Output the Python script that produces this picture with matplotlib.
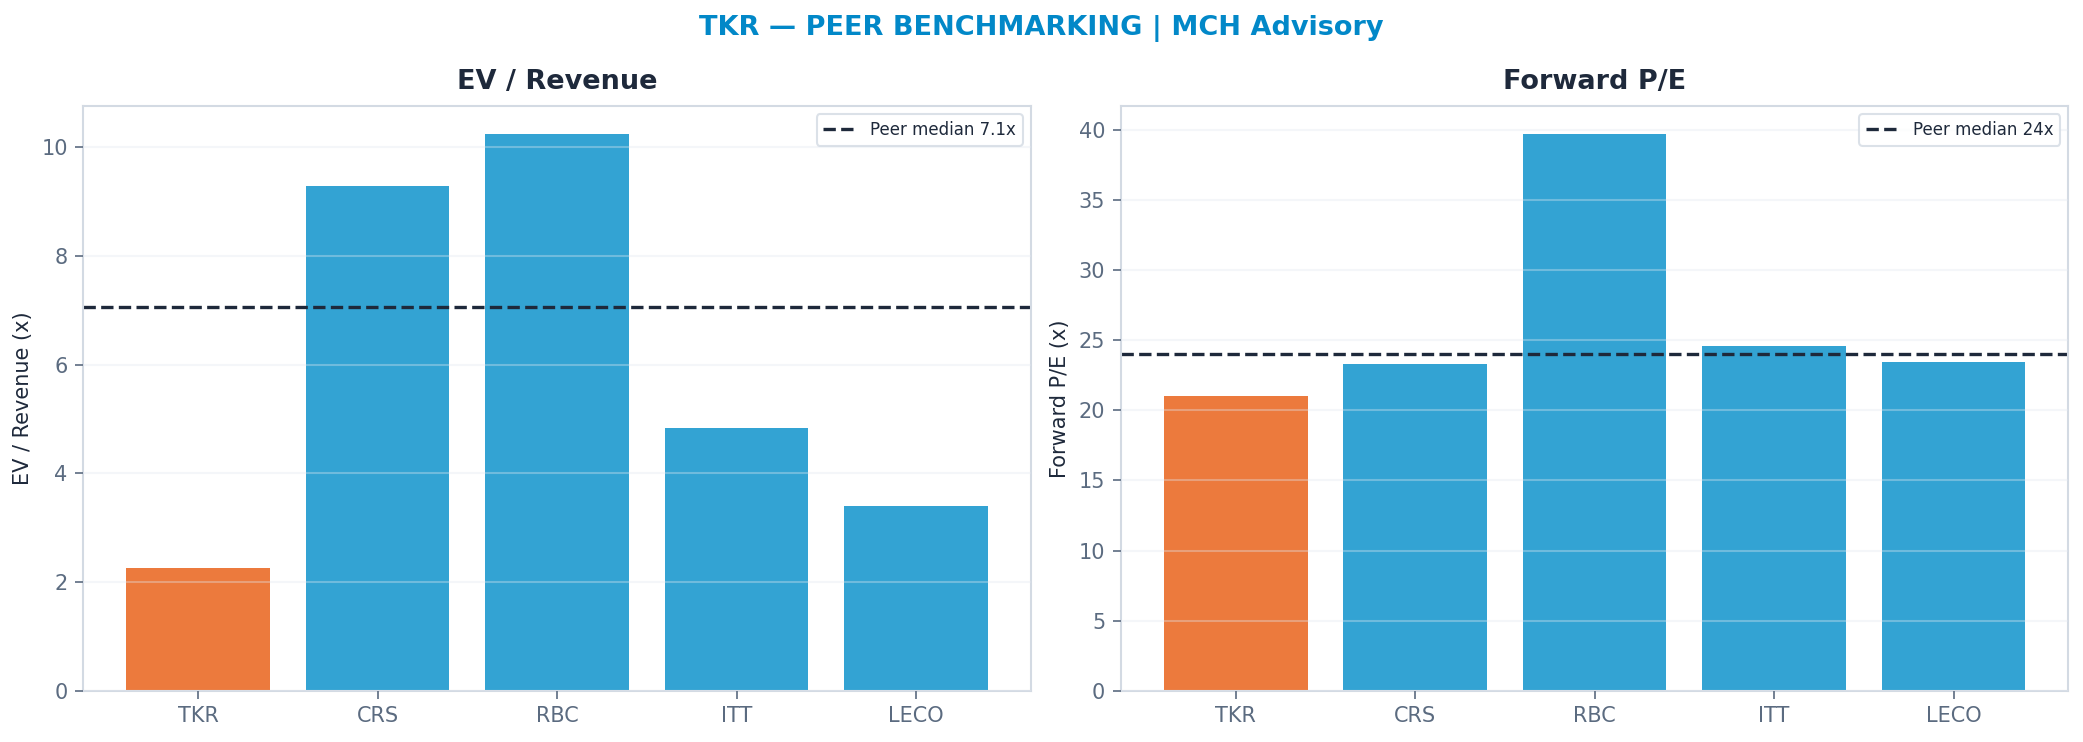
import matplotlib.pyplot as plt
import numpy as np

tickers = ["TKR", "CRS", "RBC", "ITT", "LECO"]
ev_revenue = [2.25, 9.28, 10.24, 4.83, 3.40]
fwd_pe = [21.0, 23.3, 39.7, 24.6, 23.45]

TITLE_BLUE = "#0288C8"
DARK = "#1E293B"
SLATE = "#5B6B80"
EDGE = "#D3DAE3"
ORANGE = "#EC7A3D"
BLUE = "#33A3D3"

plt.rcParams["font.family"] = "DejaVu Sans"

fig, axes = plt.subplots(1, 2, figsize=(2083 / 150, 742 / 150), dpi=150)
fig.subplots_adjust(left=0.040, right=0.993, bottom=0.069, top=0.857, wspace=0.095)

panels = [
    (axes[0], ev_revenue, "EV / Revenue", "EV / Revenue (x)", "{:.1f}x"),
    (axes[1], fwd_pe, "Forward P/E", "Forward P/E (x)", "{:.0f}x"),
]

for ax, vals, title, ylabel, fmt in panels:
    colors = [ORANGE] + [BLUE] * (len(vals) - 1)
    ax.bar(tickers, vals, color=colors, width=0.8)
    med = np.median(vals[1:])
    ax.axhline(med, color=DARK, linestyle="--", linewidth=1.6,
               label="Peer median " + fmt.format(med))
    ax.set_title(title, fontsize=13, fontweight="bold", color=DARK, pad=8)
    ax.set_ylabel(ylabel, fontsize=10, color=DARK)
    ax.grid(axis="y", color="#E2E8F0", alpha=0.35, linewidth=1)
    ax.set_axisbelow(False)
    for s in ax.spines.values():
        s.set_color(EDGE)
        s.set_linewidth(1)
    ax.tick_params(colors=SLATE, labelsize=10, length=4)
    leg = ax.legend(loc="upper right", fontsize=8, frameon=True,
                    edgecolor=EDGE, fancybox=True)
    for t in leg.get_texts():
        t.set_color(DARK)

fig.suptitle("TKR — PEER BENCHMARKING | MCH Advisory", fontsize=13,
             fontweight="bold", color=TITLE_BLUE, y=0.98)

fig.savefig("out.png", dpi=150)
